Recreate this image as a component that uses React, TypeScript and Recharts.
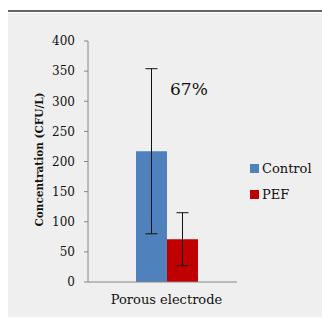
import { BarChart, Bar, XAxis, YAxis, ErrorBar } from 'recharts'

const categories = ['Porous electrode']
const controlValues = [217]
const pefValues = [71]
const controlErrors = [137]
const pefErrors = [44]
const yTicks = [0, 50, 100, 150, 200, 250, 300, 350, 400]
const seriesNames = ['Control', 'PEF']
const seriesColors = ['#4f81bd', '#c00000']
const annotation = '67%'

const data = categories.map((name, i) => ({
  name,
  control: controlValues[i],
  pef: pefValues[i],
  controlErr: controlErrors[i],
  pefErr: pefErrors[i],
}))

const serif = "'DejaVu Serif', serif"

export default function App() {
  return (
    <div style={{ position: 'absolute', left: 0, top: 0, width: 322, height: 318, background: '#fff', fontFamily: serif }}>
      <div style={{ position: 'absolute', left: 8, top: 10, width: 314, height: 2, background: '#666' }} />
      <div style={{ position: 'absolute', left: 8, top: 13, width: 314, height: 304, background: '#efefef' }} />

      <div style={{ position: 'absolute', left: 0, top: 0 }}>
        <BarChart
          width={322}
          height={318}
          data={data}
          margin={{ top: 41, right: 85, bottom: 6, left: 0 }}
          barGap={0}
          barSize={31}
        >
          <XAxis
            dataKey="name"
            height={30}
            padding={{ left: 8, right: 0 }}
            axisLine={{ stroke: '#868686' }}
            tickLine={false}
            tick={{ fill: '#111', fontSize: 13, fontFamily: serif }}
            tickMargin={7}
          />
          <YAxis
            width={88}
            domain={[0, 400]}
            ticks={yTicks}
            interval={0}
            axisLine={{ stroke: '#868686' }}
            tickLine={{ stroke: '#868686' }}
            tickSize={4}
            tickMargin={9}
            tick={{ fill: '#111', fontSize: 12, fontFamily: serif }}
            label={{
              value: 'Concentration (CFU/L)',
              angle: -90,
              position: 'center',
              dx: -5,
              dy: -2,
              style: { fill: '#111', fontSize: 10.5, fontWeight: 'bold', fontFamily: serif },
            }}
          />
          <Bar dataKey="control" fill={seriesColors[0]} isAnimationActive={false}>
            <ErrorBar dataKey="controlErr" width={6} stroke="#111" strokeWidth={1} />
          </Bar>
          <Bar dataKey="pef" fill={seriesColors[1]} isAnimationActive={false}>
            <ErrorBar dataKey="pefErr" width={6} stroke="#111" strokeWidth={1} />
          </Bar>
        </BarChart>
      </div>

      <div style={{ position: 'absolute', left: 170, top: 78, fontSize: 17, color: '#111', lineHeight: '22px' }}>
        {annotation}
      </div>

      <div style={{ position: 'absolute', left: 250, top: 155 }}>
        {seriesNames.map((n, i) => (
          <div key={n} style={{ display: 'flex', alignItems: 'center', height: 26, fontSize: 13, color: '#111' }}>
            <span style={{ width: 9, height: 9, background: seriesColors[i], marginRight: 3 }} />
            {n}
          </div>
        ))}
      </div>
    </div>
  )
}
